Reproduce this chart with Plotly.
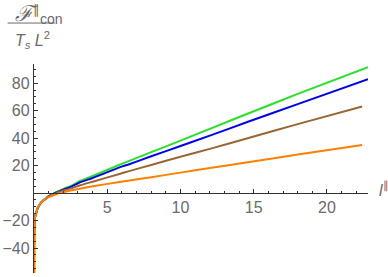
import plotly.graph_objects as go

# common steep part near l = 0 (all curves coincide there)
l_near = [0.004, 0.008, 0.015, 0.03, 0.07, 0.14, 0.25, 0.35, 0.48, 0.65, 0.82]
v_near = [-62, -42, -30, -22, -17.5, -14.8, -11, -9, -7, -5.3, -3.9]

l_green = [1.0, 1.17, 1.35, 1.5, 1.73, 2.2, 2.6, 3.1, 4, 5.83, 6.5, 8, 10, 12, 14.7, 18, 22.8]
v_green = [-2.2, -1.2, -0.2, 0.6, 1.7, 3.9, 5.6, 8.6, 12.4, 20.6, 23.5, 29.8, 38.2, 46.8, 58.3, 72.2, 91.6]

l_blue = [1.0, 1.17, 1.35, 1.5, 1.73, 2.2, 2.6, 3.1, 4, 5.83, 6.5, 8, 10, 12, 14.7, 18, 22.8]
v_blue = [-2.3, -1.4, -0.5, 0.3, 1.3, 3.3, 4.9, 7.6, 11.0, 18.7, 21, 26.8, 34.3, 41.8, 52.3, 64.8, 83]

l_brown = [1.0, 1.17, 1.35, 1.5, 1.73, 2.2, 2.6, 3.1, 4, 5.83, 6.5, 8, 10, 12, 14.7, 18, 22.4]
v_brown = [-2.5, -1.6, -0.8, -0.2, 0.8, 2.4, 3.6, 5.5, 8.3, 13.9, 16, 20.5, 26.4, 32.2, 40.3, 50.2, 63]

l_orange = [1.0, 1.17, 1.35, 1.5, 1.7, 2.2, 2.6, 3.1, 4, 5.83, 6.5, 8, 10, 12, 14.7, 18, 22.4]
v_orange = [-3, -2.2, -1.5, -0.9, 0, 1.2, 2.1, 3.2, 5.0, 8.0, 9.1, 11.6, 14.9, 18.2, 22.6, 28.1, 35]

x_tickvals = [5, 10, 15, 20]
y_tickvals = [-40, -20, 20, 40, 60, 80]

x_range = [0, 22.8]
y_range = [-58.2, 94]

series = [
    (l_green, v_green, "rgb(40,225,40)"),
    (l_blue, v_blue, "rgb(0,0,245)"),
    (l_brown, v_brown, "rgb(153,102,51)"),
    (l_orange, v_orange, "rgb(255,128,0)"),
]

fig = go.Figure()
for lx, vy, col in series:
    fig.add_trace(go.Scatter(
        x=l_near + lx, y=v_near + vy, mode="lines",
        line=dict(color=col, width=2, shape="spline", smoothing=0.6),
        showlegend=False, hoverinfo="skip"))

axis_col = "#333333"
tick_font = dict(family="Liberation Sans, Arial, sans-serif", size=16, color="#6a6a6a")

fig.update_layout(
    width=388, height=277,
    margin=dict(l=34, r=20, t=64, b=4),
    paper_bgcolor="white", plot_bgcolor="white",
    hovermode=False,
    xaxis=dict(
        range=x_range, anchor="free", automargin=False,
        position=(0 - y_range[0]) / (y_range[1] - y_range[0]),
        showgrid=False, zeroline=False,
        showline=True, linecolor=axis_col, linewidth=1.2,
        tickmode="array", tickvals=x_tickvals, ticktext=[str(v) for v in x_tickvals],
        ticks="inside", ticklen=4, tickcolor=axis_col, tickwidth=1,
        tickfont=tick_font,
        minor=dict(ticks="inside", dtick=1, tick0=0, ticklen=2, tickcolor=axis_col, showgrid=False),
    ),
    yaxis=dict(
        range=y_range, showgrid=False, zeroline=False, automargin=False,
        showline=True, linecolor=axis_col, linewidth=1.2,
        tickmode="array", tickvals=y_tickvals, ticktext=[str(v).replace("-", "−") for v in y_tickvals],
        ticks="inside", ticklen=4, tickcolor=axis_col, tickwidth=1,
        tickfont=tick_font,
        minor=dict(ticks="inside", dtick=5, tick0=0, ticklen=2, tickcolor=axis_col, showgrid=False),
    ),
)

label_font = dict(family="Liberation Sans, Arial, sans-serif", size=16, color="#6a6a6a")

# y-axis label as a fraction
fig.add_annotation(xref="paper", yref="paper", x=-0.062, y=1.0, yshift=50,
                   text="<span style='font-family:DejaVu Serif;font-size:22px'><i>ℱ</i></span>"
                        "<sup><span style='font-size:13px'>∥</span></sup>"
                        "<sub><span style='font-size:14px'>con</span></sub>",
                   showarrow=False, xanchor="left", yanchor="middle", font=label_font)
fig.add_shape(type="line", xref="paper", yref="paper",
              x0=-0.079, x1=0.063, y0=1.196, y1=1.196,
              line=dict(color="#6a6a6a", width=1))
fig.add_annotation(xref="paper", yref="paper", x=-0.062, y=1.0, yshift=24,
                   text="<i>T</i><sub><i>s</i></sub> <i>L</i><sup>2</sup>", showarrow=False,
                   xanchor="left", yanchor="middle", font=label_font)

# x-axis label
fig.add_annotation(xref="paper", yref="paper", x=1.0, xshift=9,
                   y=(0 - y_range[0]) / (y_range[1] - y_range[0]), yshift=4,
                   text="<i>l</i><sup>∥</sup>", showarrow=False,
                   xanchor="left", yanchor="middle", font=label_font)

fig.write_html("out.html", config={"displayModeBar": False, "staticPlot": True},
               post_script="document.body.style.margin='0px';document.body.style.overflow='hidden';")
